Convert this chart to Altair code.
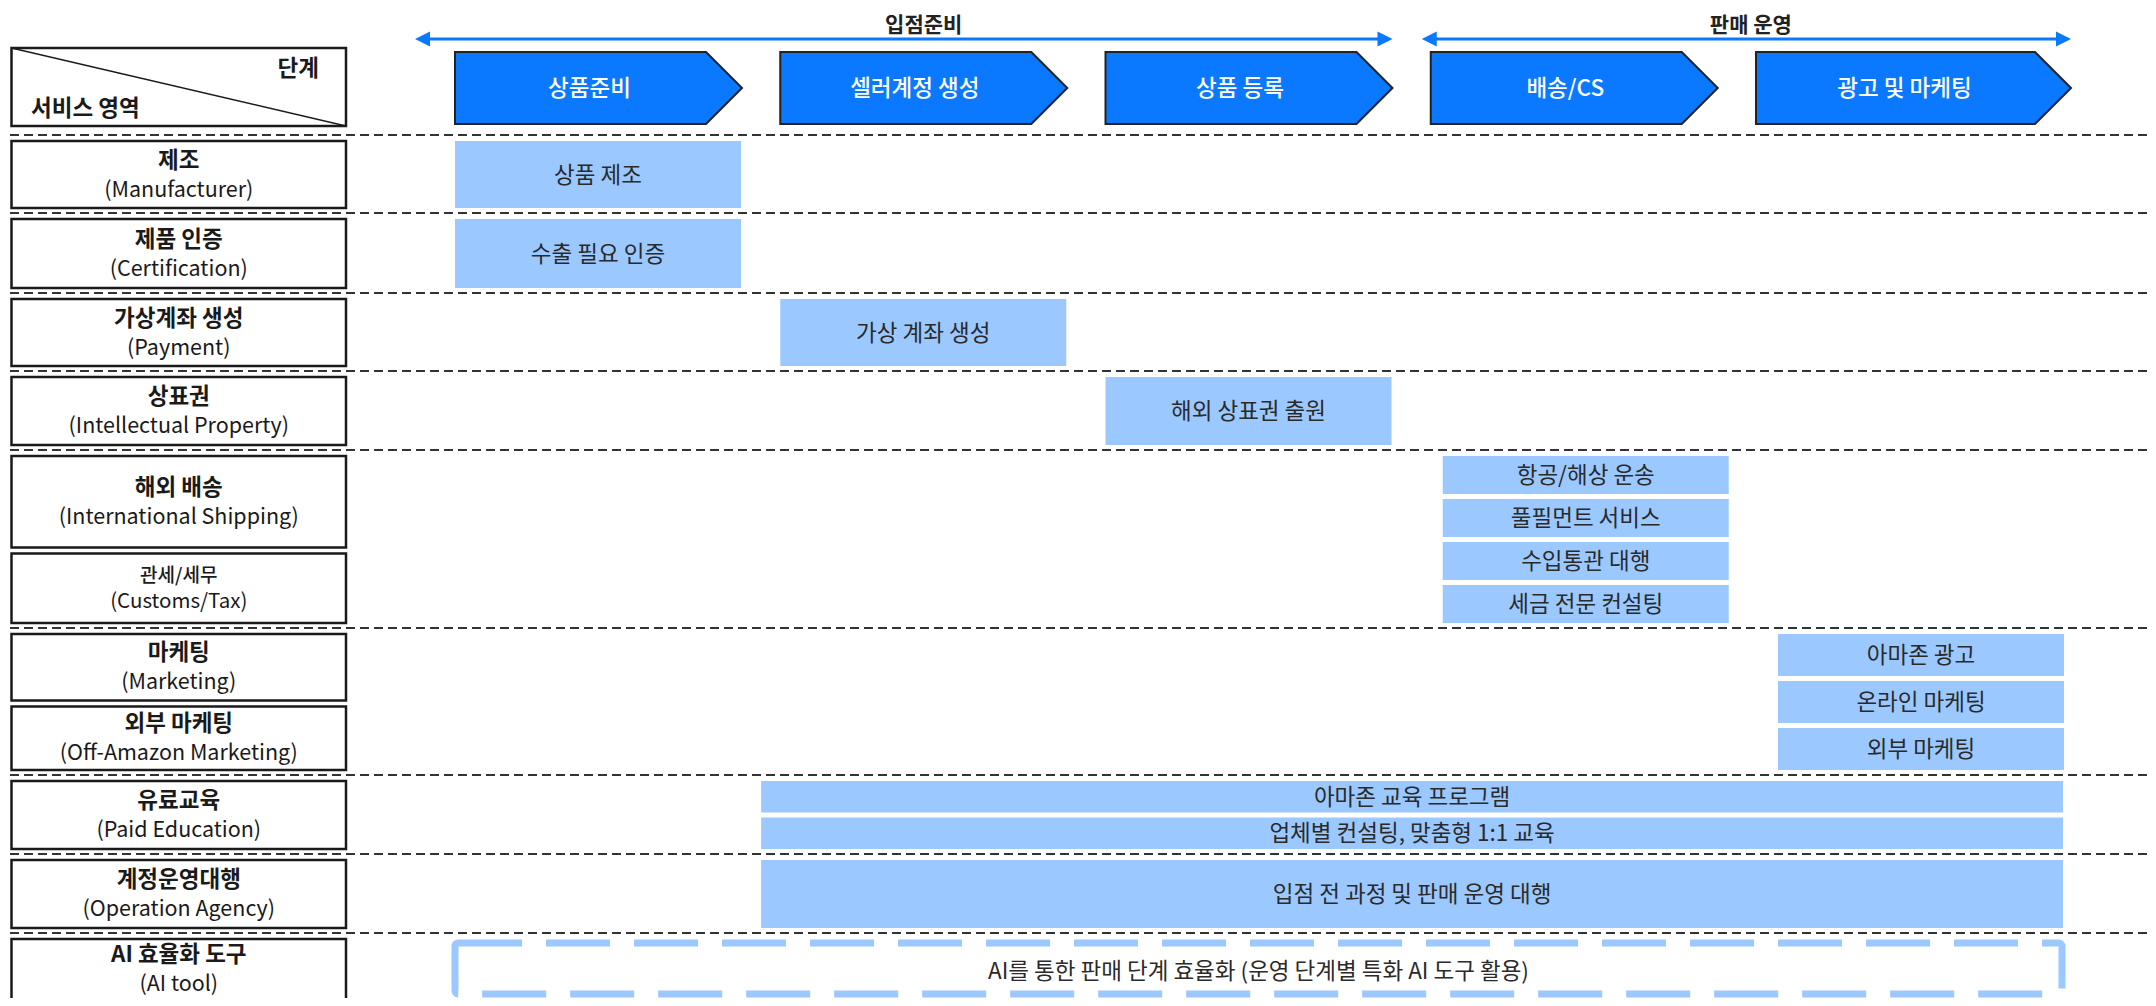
import altair as alt
import pandas as pd

# ---------------- DATA ----------------
phase_names = ["입점준비", "판매 운영"]
phase_stage_from = [0, 3]
phase_stage_to = [2, 4]

stage_names = ["상품준비", "셀러계정 생성", "상품 등록", "배송/CS", "광고 및 마케팅"]

header_stage_label = "단계"
header_area_label = "서비스 영역"

area_ko = ["제조", "제품 인증", "가상계좌 생성", "상표권", "해외 배송", "관세/세무",
           "마케팅", "외부 마케팅", "유료교육", "계정운영대행", "AI 효율화 도구"]
area_en = ["(Manufacturer)", "(Certification)", "(Payment)", "(Intellectual Property)",
           "(International Shipping)", "(Customs/Tax)", "(Marketing)",
           "(Off-Amazon Marketing)", "(Paid Education)", "(Operation Agency)", "(AI tool)"]
area_group = [0, 1, 2, 3, 4, 4, 5, 5, 6, 7, 8]

service_names = ["상품 제조", "수출 필요 인증", "가상 계좌 생성", "해외 상표권 출원",
                 "항공/해상 운송", "풀필먼트 서비스", "수입통관 대행", "세금 전문 컨설팅",
                 "아마존 광고", "온라인 마케팅", "외부 마케팅",
                 "아마존 교육 프로그램", "업체별 컨설팅, 맞춤형 1:1 교육",
                 "입점 전 과정 및 판매 운영 대행",
                 "AI를 통한 판매 단계 효율화 (운영 단계별 특화 AI 도구 활용)"]
service_group = [0, 1, 2, 3, 4, 4, 4, 4, 5, 5, 5, 6, 6, 7, 8]
service_stage_from = [0, 0, 1, 2, 3, 3, 3, 3, 4, 4, 4, 1, 1, 1, 0]
service_stage_to = [0, 0, 1, 2, 3, 3, 3, 3, 4, 4, 4, 4, 4, 4, 4]
service_dashed = [False] * 14 + [True]

# ---------------- LAYOUT / STYLE (page pixels) ----------------
W, H = 2140, 990
OFF = 8
BLUE = "#0A78FF"
LIGHT = "#9BC8FF"
DARK = "#222222"
FONT = "Noto Sans CJK KR"

STAGE_X0, PITCH = 455, 325.25
CHEV_W, TIP = 287, 36
CHEV_END_LAST = 2071
CHEV_TOP, CHEV_BOT = 52, 124
LEFT_X1, LEFT_X2 = 11.5, 346
HEAD_TOP, HEAD_BOT = 48, 126
SEP_X1, SEP_X2 = 10, 2147
SEP_Y0 = 135
GROUP_H = [78, 80, 78, 79, 178, 147, 79, 79, 80]
AREA_WEIGHT = [1, 1, 1, 1, 1.32, 1, 1.05, 1, 1, 1, 1]
AREA_KO_FS = [22.5] * 11
AREA_KO_FS[5] = 19
AREA_EN_FS = [21.5] * 11
AREA_EN_FS[5] = 20.5
BAR_W = 286
GROUP_SHIFT = {4: 12, 5: 22}
PHASE_LEFT_PAD = [40, 9]
ARROW_Y = 39
PHASE_TEXT_Y = 25.5
PHASE_FS = 21
BAR_FS = 22.5


def L(v):
    return v - OFF


def stage_x(i):
    return STAGE_X0 + i * PITCH


def stage_tip(i):
    return CHEV_END_LAST if i == len(stage_names) - 1 else stage_x(i) + CHEV_W


XS = alt.Scale(domain=[0, W], nice=False, zero=False)
YS = alt.Scale(domain=[0, H], nice=False, zero=False, reverse=True)


def ex(f="x"):
    return alt.X(f"{f}:Q", scale=XS, axis=None)


def ey(f="y", **kw):
    return alt.Y(f"{f}:Q", scale=YS, axis=None, **kw)


# separators / groups
seps = [SEP_Y0]
for h in GROUP_H:
    seps.append(seps[-1] + h)
n_groups = len(GROUP_H)
group_top = [seps[g] + 6 for g in range(n_groups)]
group_bot = [seps[g + 1] - 5 for g in range(n_groups)]

sep_df = pd.DataFrame({"x": L(SEP_X1), "x2": L(SEP_X2), "y": [L(s) for s in seps[:n_groups]]})

# left area boxes
box_rows, ko_rows, ko_small_rows, en_rows = [], [], [], []
for g in range(n_groups):
    idx = [i for i, gg in enumerate(area_group) if gg == g]
    gap = 6
    avail = group_bot[g] - group_top[g] - gap * (len(idx) - 1)
    wsum = sum(AREA_WEIGHT[i] for i in idx)
    y = group_top[g]
    for i in idx:
        h = avail * AREA_WEIGHT[i] / wsum
        box_rows.append({"x": L(LEFT_X1), "x2": L(LEFT_X2), "y": L(y), "y2": L(y + h)})
        c = y + h / 2
        d = 15 if AREA_KO_FS[i] > 20 else 13
        c = min(c, OFF + H - 14 - d)
        cx = (LEFT_X1 + LEFT_X2) / 2
        row = {"x": L(cx), "y": L(c - d + 1), "t": area_ko[i], "fs": AREA_KO_FS[i]}
        (ko_rows if AREA_KO_FS[i] > 20 else ko_small_rows).append(row)
        en_rows.append({"x": L(cx), "y": L(c + d + 1), "t": area_en[i], "fs": AREA_EN_FS[i]})
        y += h + gap
box_df = pd.DataFrame(box_rows)
ko_df = pd.DataFrame(ko_rows)
ko_small_df = pd.DataFrame(ko_small_rows)
en_df = pd.DataFrame(en_rows)

# header box
head_df = pd.DataFrame([{"x": L(LEFT_X1), "x2": L(LEFT_X2), "y": L(HEAD_TOP), "y2": L(HEAD_BOT)}])
head_text_df = pd.DataFrame([
    {"x": L(319), "y": L(69), "t": header_stage_label, "a": "right"},
    {"x": L(31), "y": L(109), "t": header_area_label, "a": "left"},
])

# chevrons
chev_rows, chev_text = [], []
for i, name in enumerate(stage_names):
    x0, tip = stage_x(i), stage_tip(i)
    xb = tip - TIP
    mid = (CHEV_TOP + CHEV_BOT) / 2
    for xx, yt, yb in [(x0, CHEV_TOP, CHEV_BOT), (xb, CHEV_TOP, CHEV_BOT), (tip, mid, mid)]:
        chev_rows.append({"id": i, "x": L(xx), "y": L(yt), "y2": L(yb)})
    chev_text.append({"x": L((x0 + tip) / 2 - 9), "y": L(mid + 1), "t": name})
chev_df = pd.DataFrame(chev_rows)
chev_text_df = pd.DataFrame(chev_text)

# phase arrows
arrow_rows, head_rows, phase_text = [], [], []
for p, name in enumerate(phase_names):
    a = stage_x(phase_stage_from[p]) - PHASE_LEFT_PAD[p]
    b = stage_tip(phase_stage_to[p])
    arrow_rows.append({"x": L(a + 6), "x2": L(b - 6), "y": L(ARROW_Y)})
    head_rows.append({"x": L(a + 7.5), "y": L(ARROW_Y), "dir": "l"})
    head_rows.append({"x": L(b - 7.5), "y": L(ARROW_Y), "dir": "r"})
    cx = (stage_x(phase_stage_from[p]) + stage_tip(phase_stage_to[p])) / 2
    phase_text.append({"x": L(cx), "y": L(PHASE_TEXT_Y), "t": name})
arrow_df = pd.DataFrame(arrow_rows)
headl_df = pd.DataFrame([r for r in head_rows if r["dir"] == "l"])
headr_df = pd.DataFrame([r for r in head_rows if r["dir"] == "r"])
phase_df = pd.DataFrame(phase_text)

# service bars
bar_rows, dash_rows = [], []
for g in range(n_groups):
    idx = [i for i, gg in enumerate(service_group) if gg == g]
    if not idx:
        continue
    gap = 5
    n = len(idx)
    h = (group_bot[g] - group_top[g] - gap * (n - 1)) / n
    for k, i in enumerate(idx):
        s0, s1 = service_stage_from[i], service_stage_to[i]
        if service_dashed[i]:
            x1, x2 = stage_x(s0), CHEV_END_LAST - 9
            y1, y2 = seps[g] + 10, min(seps[g] + 68, OFF + H - 4)
            dash_rows.append({"x": L(x1), "x2": L(x2), "y": L(y1), "y2": L(y2),
                              "cx": L((x1 + x2) / 2), "cy": L(seps[g] + 39), "t": service_names[i]})
            continue
        if s0 == s1:
            x1 = stage_x(s0) + GROUP_SHIFT.get(g, 0)
            x2 = x1 + BAR_W
        else:
            x1 = stage_x(s0) - (PITCH - CHEV_W) / 2 if s0 > 0 else stage_x(0)
            x2 = CHEV_END_LAST - 8
        y1 = group_top[g] + k * (h + gap)
        y2 = y1 + h
        bar_rows.append({"x": L(x1), "x2": L(x2), "y": L(y1), "y2": L(y2),
                         "cx": L((x1 + x2) / 2), "cy": L((y1 + y2) / 2 + 1), "t": service_names[i]})
bar_df = pd.DataFrame(bar_rows)
dash_df = pd.DataFrame(dash_rows)

# ---------------- CHART ----------------
sep_layer = alt.Chart(sep_df).mark_rule(color="#333333", strokeWidth=2, strokeDash=[9, 5]).encode(
    x=ex(), x2="x2:Q", y=ey())

box_layer = alt.Chart(box_df).mark_rect(fill="white", stroke="#1a1a1a", strokeWidth=2.5).encode(
    x=ex(), x2="x2:Q", y=ey(), y2="y2:Q")
ko_layer = alt.Chart(ko_df).mark_text(font=FONT, fontWeight="bold", color="#1a1a1a", baseline="middle").encode(
    x=ex(), y=ey(), text="t:N", size=alt.Size("fs:Q", scale=None))
ko_small_layer = alt.Chart(ko_small_df).mark_text(font=FONT, fontWeight=500, color="#1a1a1a",
                                                  baseline="middle").encode(
    x=ex(), y=ey(), text="t:N", size=alt.Size("fs:Q", scale=None))
en_layer = alt.Chart(en_df).mark_text(font=FONT, fontWeight="normal", color="#1a1a1a", baseline="middle").encode(
    x=ex(), y=ey(), text="t:N", size=alt.Size("fs:Q", scale=None))

head_layer = alt.Chart(head_df).mark_rect(fill="white", stroke="#1a1a1a", strokeWidth=2.5).encode(
    x=ex(), x2="x2:Q", y=ey(), y2="y2:Q")
diag_layer = alt.Chart(head_df).mark_rule(color="#1a1a1a", strokeWidth=1.5).encode(
    x=ex(), x2="x2:Q", y=ey(), y2="y2:Q")
head_text_r = alt.Chart(head_text_df[head_text_df.a == "right"]).mark_text(
    font=FONT, fontWeight="bold", fontSize=22.5, color="#1a1a1a", align="right", baseline="middle").encode(
    x=ex(), y=ey(), text="t:N")
head_text_l = alt.Chart(head_text_df[head_text_df.a == "left"]).mark_text(
    font=FONT, fontWeight="bold", fontSize=22.5, color="#1a1a1a", align="left", baseline="middle").encode(
    x=ex(), y=ey(), text="t:N")

chev_layer = alt.Chart(chev_df).mark_area(orient="vertical", fill=BLUE, stroke="#222222",
                                          strokeWidth=2, opacity=1).encode(
    x=ex(), y=ey(stack=None), y2="y2:Q", detail="id:N")
chev_text_layer = alt.Chart(chev_text_df).mark_text(font=FONT, fontWeight=500, fontSize=22.5,
                                                    color="white", baseline="middle").encode(
    x=ex(), y=ey(), text="t:N")

arrow_layer = alt.Chart(arrow_df).mark_rule(color=BLUE, strokeWidth=3).encode(x=ex(), x2="x2:Q", y=ey())
headl_layer = alt.Chart(headl_df).mark_point(shape="M1,-1L-1,0L1,1Z", filled=True, size=225,
                                             color=BLUE, opacity=1).encode(x=ex(), y=ey())
headr_layer = alt.Chart(headr_df).mark_point(shape="M-1,-1L1,0L-1,1Z", filled=True, size=225,
                                             color=BLUE, opacity=1).encode(x=ex(), y=ey())
phase_layer = alt.Chart(phase_df).mark_text(font=FONT, fontWeight=600, fontSize=PHASE_FS, color=DARK,
                                            baseline="middle").encode(x=ex(), y=ey(), text="t:N")

bar_layer = alt.Chart(bar_df).mark_rect(fill=LIGHT).encode(x=ex(), x2="x2:Q", y=ey(), y2="y2:Q")
bar_text = alt.Chart(bar_df).mark_text(font=FONT, fontSize=BAR_FS, color="#2a2a2a", baseline="middle").encode(
    x=ex("cx"), y=ey("cy"), text="t:N")

dash_layer = alt.Chart(dash_df).mark_rect(fill="white", fillOpacity=0, stroke=LIGHT, strokeWidth=7,
                                          strokeDash=[64, 24], cornerRadius=3).encode(
    x=ex(), x2="x2:Q", y=ey(), y2="y2:Q")
dash_text = alt.Chart(dash_df).mark_text(font=FONT, fontSize=BAR_FS, color="#2a2a2a", baseline="middle").encode(
    x=ex("cx"), y=ey("cy"), text="t:N")

chart = alt.layer(
    sep_layer, box_layer, ko_layer, ko_small_layer, en_layer,
    head_layer, diag_layer, head_text_r, head_text_l,
    arrow_layer, headl_layer, headr_layer, phase_layer,
    chev_layer, chev_text_layer,
    bar_layer, bar_text, dash_layer, dash_text,
).properties(
    width=W, height=H, autosize=alt.AutoSizeParams(type="none"), padding=0, background="white"
).configure_view(stroke=None)

chart.save("out.html", embed_options={"renderer": "svg", "actions": False})
